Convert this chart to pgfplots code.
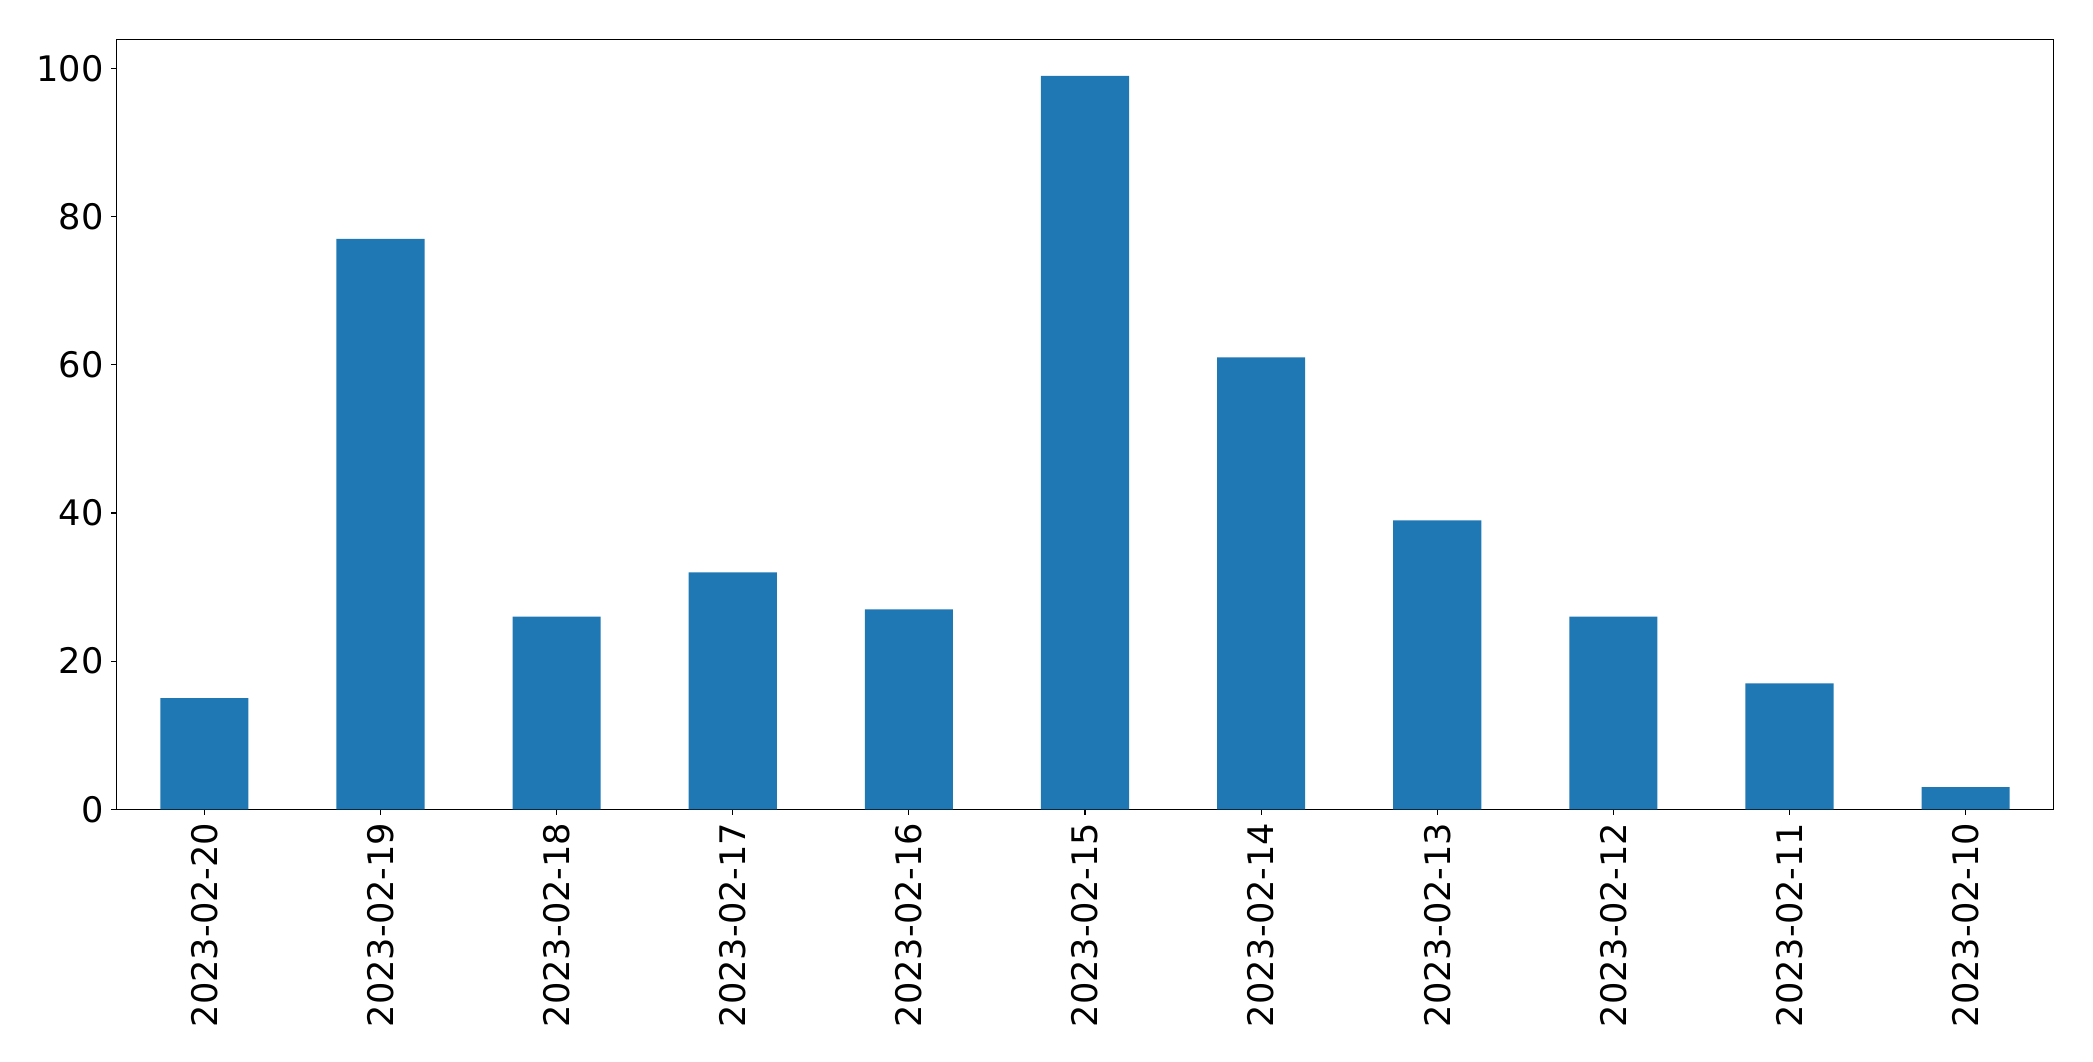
\documentclass[border=0pt]{standalone}
\usepackage{pgfplots}
\pgfplotsset{compat=1.18}
\usepackage{fontspec}
\setmainfont{DejaVu Sans}
\definecolor{mplblue}{HTML}{1F77B4}
\begin{document}
\begin{tikzpicture}
\path[use as bounding box] (-58.15pt,-125.85pt) rectangle (988.35pt,404.65pt);
\begin{axis}[
  at={(0,0)}, anchor=south west,
  scale only axis,
  width=968.7pt, height=385pt,
  xmin=-0.5, xmax=10.5,
  ymin=0, ymax=103.95,
  axis line style={line width=0.6pt, black},
  every tick/.style={line width=0.6pt, black},
  tick align=outside,
  major tick length=2.65pt,
  xtick={0,1,2,3,4,5,6,7,8,9,10},
  xticklabels={2023-02-20,2023-02-19,2023-02-18,2023-02-17,2023-02-16,2023-02-15,2023-02-14,2023-02-13,2023-02-12,2023-02-11,2023-02-10},
  ytick={0,20,40,60,80,100},
  xtick pos=bottom, ytick pos=left,
  /pgf/number format/assume math mode=true,
  tick label style={font=\fontsize{17.6}{21}\selectfont},
  xticklabel style={rotate=90, anchor=east, inner xsep=3.8pt, inner ysep=0pt},
  yticklabel style={anchor=east, inner xsep=3.5pt, inner ysep=0pt},
  ybar, bar width=0.5,
]
\addplot[fill=mplblue, draw=none] coordinates {
(0,15) (1,77) (2,26) (3,32) (4,27) (5,99) (6,61) (7,39) (8,26) (9,17) (10,3)
};
\end{axis}
\end{tikzpicture}
\end{document}
